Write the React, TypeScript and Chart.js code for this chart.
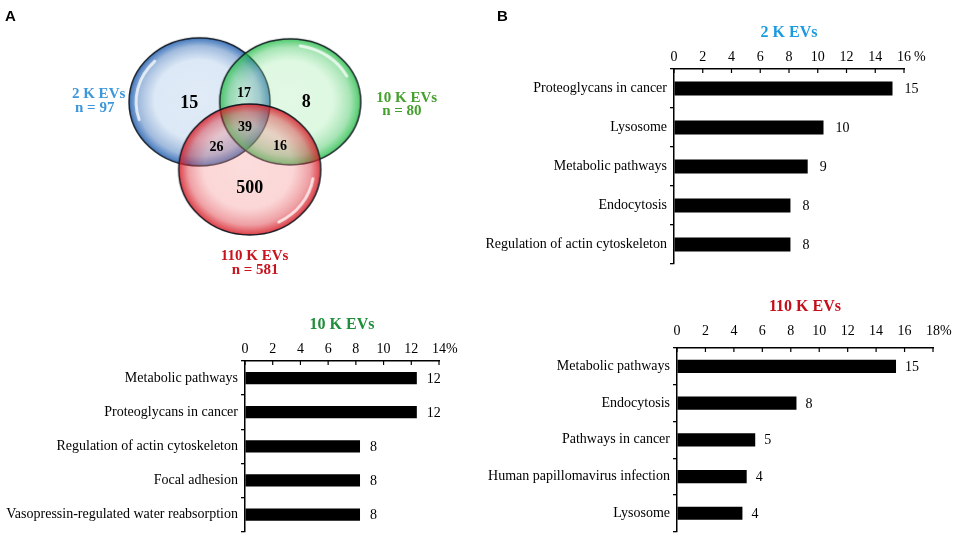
import React, { useEffect, useRef } from 'react';
import { Chart, registerables } from 'chart.js';

Chart.register(...registerables);

const SERIF = '"Liberation Serif", "Times New Roman", serif';
const SANS = '"Liberation Sans", Arial, sans-serif';

// ---------------- Data ----------------
// Venn (panel A)
const vennSetNames = ['2 K EVs', '10 K EVs', '110 K EVs'];
const vennSetTotals = [97, 80, 581];
// regions: only 2K, 2K∩10K, only 10K, all three, 2K∩110K, 10K∩110K, only 110K
const vennRegionCounts = [15, 17, 8, 39, 26, 16, 500];

// Bar panels (panel B) — percentage of proteins in each KEGG pathway
const twoKCategories = ['Proteoglycans in cancer', 'Lysosome', 'Metabolic pathways', 'Endocytosis', 'Regulation of actin cytoskeleton'];
const twoKValues = [15.2, 10.4, 9.3, 8.1, 8.1];
const twoKValueLabels = ['15', '10', '9', '8', '8'];
const twoKAxisMax = 16;

const tenKCategories = ['Metabolic pathways', 'Proteoglycans in cancer', 'Regulation of actin cytoskeleton', 'Focal adhesion', 'Vasopressin-regulated water reabsorption'];
const tenKValues = [12.4, 12.4, 8.3, 8.3, 8.3];
const tenKValueLabels = ['12', '12', '8', '8', '8'];
const tenKAxisMax = 14;

const hundredTenKCategories = ['Metabolic pathways', 'Endocytosis', 'Pathways in cancer', 'Human papillomavirus infection', 'Lysosome'];
const hundredTenKValues = [15.4, 8.4, 5.5, 4.9, 4.6];
const hundredTenKValueLabels = ['15', '8', '5', '4', '4'];
const hundredTenKAxisMax = 18;

const tickStep = 2;

// ---------------- Layout / style (not data) ----------------
const vennCenters = [
  { x: 198.5, y: 100 },
  { x: 291.5, y: 100 },
  { x: 250, y: 170.5 },
];
const vennRadii = [
  { rx: 70.5, ry: 64 },
  { rx: 70.5, ry: 63 },
  { rx: 71, ry: 65.5 },
];
const vennRegionPos = [
  { x: 188, y: 102, s: 18 },
  { x: 244, y: 91, s: 14 },
  { x: 308, y: 101, s: 18 },
  { x: 245, y: 127, s: 14 },
  { x: 216, y: 147, s: 14 },
  { x: 281, y: 146, s: 14 },
  { x: 250, y: 190, s: 18 },
];
const vennLabelPos = [
  { x: 95, y: 92, nx: 91, ny: 107 },
  { x: 411, y: 96, nx: 406, ny: 110 },
  { x: 255, y: 261, nx: 255.5, ny: 276 },
];
const vennTextColors = ['#3d97db', '#45a02e', '#c8141e'];
const titleColors = ['#1a9be0', '#1f8e3a', '#c40f1a'];

type RGB = [number, number, number];
const vennStyles: { center: RGB; ca: number; rim: RGB; ra: number; hl: [number, number] }[] = [
  { center: [170, 200, 232], ca: 0.36, rim: [40, 100, 178], ra: 0.88, hl: [0.9, 1.25] },
  { center: [160, 235, 170], ca: 0.3, rim: [40, 190, 75], ra: 0.82, hl: [1.55, 1.85] },
  { center: [245, 140, 140], ca: 0.3, rim: [215, 32, 42], ra: 0.86, hl: [0.05, 0.35] },
];

function rgba(c: RGB, a: number) {
  return `rgba(${c[0]},${c[1]},${c[2]},${a})`;
}

function makeBubble(rx: number, ry: number, st: typeof vennStyles[number]) {
  const cv = document.createElement('canvas');
  const w = Math.ceil(rx * 2 + 4);
  const h = Math.ceil(ry * 2 + 4);
  cv.width = w;
  cv.height = h;
  const ctx = cv.getContext('2d')!;
  ctx.save();
  ctx.translate(w / 2, h / 2);
  ctx.scale(rx / ry, 1);
  const g = ctx.createRadialGradient(-ry * 0.05, -ry * 0.08, 0, 0, 0, ry);
  g.addColorStop(0, rgba(st.center, st.ca));
  g.addColorStop(0.62, rgba(st.center, st.ca + 0.05));
  g.addColorStop(0.86, rgba(st.rim, st.ra * 0.5));
  g.addColorStop(1, rgba(st.rim, st.ra));
  ctx.beginPath();
  ctx.arc(0, 0, ry, 0, Math.PI * 2);
  ctx.fillStyle = g;
  ctx.fill();
  ctx.restore();
  // gloss highlight
  ctx.beginPath();
  ctx.ellipse(w / 2, h / 2, rx * 0.9, ry * 0.9, 0, Math.PI * st.hl[0], Math.PI * st.hl[1]);
  ctx.strokeStyle = 'rgba(255,255,255,0.75)';
  ctx.lineWidth = 3;
  ctx.lineCap = 'round';
  ctx.stroke();
  // outline
  ctx.beginPath();
  ctx.ellipse(w / 2, h / 2, rx, ry, 0, 0, Math.PI * 2);
  ctx.strokeStyle = 'rgba(15,20,30,0.95)';
  ctx.lineWidth = 1.5;
  ctx.stroke();
  return cv;
}

function VennPanel() {
  const ref = useRef<HTMLCanvasElement>(null);
  useEffect(() => {
    const images = vennStyles.map((st, i) => makeBubble(vennRadii[i].rx, vennRadii[i].ry, st));
    const textPlugin = {
      id: 'vennText',
      afterDatasetsDraw(chart: any) {
        const { ctx } = chart;
        const xs = chart.scales.x;
        const ys = chart.scales.y;
        ctx.save();
        ctx.textAlign = 'center';
        ctx.textBaseline = 'middle';
        ctx.fillStyle = '#000';
        vennRegionCounts.forEach((c, i) => {
          const p = vennRegionPos[i];
          ctx.font = `bold ${p.s}px ${SERIF}`;
          ctx.fillText(String(c), xs.getPixelForValue(p.x), ys.getPixelForValue(p.y));
        });
        vennSetNames.forEach((name, i) => {
          const p = vennLabelPos[i];
          ctx.fillStyle = vennTextColors[i];
          ctx.font = `bold 15px ${SERIF}`;
          ctx.fillText(name, xs.getPixelForValue(p.x), ys.getPixelForValue(p.y));
          ctx.fillText(`n = ${vennSetTotals[i]}`, xs.getPixelForValue(p.nx), ys.getPixelForValue(p.ny));
        });
        ctx.fillStyle = '#000';
        ctx.textAlign = 'left';
        ctx.textBaseline = 'alphabetic';
        ctx.font = `bold 15px ${SANS}`;
        ctx.fillText('A', 5, 21);
        ctx.restore();
      },
    };
    const chart = new Chart(ref.current!, {
      type: 'scatter',
      data: {
        datasets: [
          {
            data: vennCenters.map((c) => ({ x: c.x, y: c.y })),
            pointStyle: images as any,
            pointRadius: 5,
            pointHoverRadius: 5,
          },
        ],
      },
      options: {
        animation: false,
        responsive: false,
        maintainAspectRatio: false,
        events: [],
        layout: { padding: 0 },
        plugins: { legend: { display: false }, tooltip: { enabled: false } },
        scales: {
          x: { type: 'linear', min: 0, max: 480, display: false },
          y: { type: 'linear', min: 0, max: 290, reverse: true, display: false },
        },
      },
      plugins: [textPlugin],
    });
    return () => chart.destroy();
  }, []);
  return (
    <canvas
      ref={ref}
      width={480}
      height={290}
      style={{ position: 'absolute', left: 0, top: 0, width: 480, height: 290 }}
    />
  );
}

type BarProps = {
  categories: string[];
  values: number[];
  valueLabels: string[];
  title: string;
  titleColor: string;
  axisMax: number;
  left: number;
  top: number;
  width: number;
  height: number;
  area: { l: number; r: number; t: number; b: number };
  titleY: number;
  tickGap: number;
  pctOffset: number;
  valueGap: number;
  letter?: string;
};

function BarPanel(p: BarProps) {
  const ref = useRef<HTMLCanvasElement>(null);
  useEffect(() => {
    const titleSize = 16;
    const titleLH = titleSize * 1.2;
    const titlePadTop = p.titleY - titleLH / 2;
    const axisH = p.area.t - (titlePadTop + titleLH);
    const tickFont = 14;
    const tickPadding = p.tickGap - (tickFont * 1.2) / 2;
    const plugin = {
      id: 'barExtras',
      afterDatasetsDraw(chart: any) {
        const { ctx, chartArea } = chart;
        const xs = chart.scales.x;
        const meta = chart.getDatasetMeta(0);
        ctx.save();
        ctx.fillStyle = '#000';
        ctx.font = `${tickFont}px ${SERIF}`;
        ctx.textAlign = 'left';
        ctx.textBaseline = 'middle';
        meta.data.forEach((bar: any, i: number) => {
          ctx.fillText(p.valueLabels[i], bar.x + p.valueGap, bar.y + 1);
        });
        ctx.strokeStyle = '#000';
        ctx.lineWidth = 1.2;
        xs.ticks.forEach((t: any) => {
          const px = xs.getPixelForValue(t.value);
          ctx.beginPath();
          ctx.moveTo(px, chartArea.top);
          ctx.lineTo(px, chartArea.top + 4);
          ctx.stroke();
        });
        ctx.fillText('%', xs.getPixelForValue(p.axisMax) + p.pctOffset, chartArea.top - p.tickGap);
        if (p.letter) {
          ctx.font = `bold 15px ${SANS}`;
          ctx.textBaseline = 'alphabetic';
          ctx.fillText(p.letter, 17, 21);
        }
        ctx.restore();
      },
    };
    const chart = new Chart(ref.current!, {
      type: 'bar',
      data: {
        labels: p.categories,
        datasets: [
          {
            data: p.values,
            backgroundColor: '#000',
            borderWidth: 0,
            barPercentage: 0.36,
            categoryPercentage: 1,
          },
        ],
      },
      options: {
        indexAxis: 'y',
        animation: false,
        responsive: false,
        maintainAspectRatio: false,
        events: [],
        layout: { padding: { left: 0, top: 0, right: p.width - p.area.r, bottom: p.height - p.area.b } },
        plugins: {
          legend: { display: false },
          tooltip: { enabled: false },
          title: {
            display: true,
            fullSize: false,
            text: p.title,
            color: p.titleColor,
            font: { family: SERIF, size: titleSize, weight: 'bold', lineHeight: 1.2 },
            padding: { top: titlePadTop, bottom: 0 },
          },
        },
        scales: {
          x: {
            position: 'top',
            min: 0,
            max: p.axisMax,
            ticks: {
              stepSize: tickStep,
              color: '#000',
              font: { family: SERIF, size: tickFont },
              padding: tickPadding,
              maxRotation: 0,
            },
            grid: { drawOnChartArea: false, drawTicks: false },
            border: { display: true, color: '#000', width: 1.5 },
            afterFit: (s: any) => {
              s.height = axisH;
            },
          },
          y: {
            ticks: {
              color: '#000',
              font: { family: SERIF, size: tickFont },
              padding: 3,
              autoSkip: false,
            },
            grid: { drawOnChartArea: false, drawTicks: true, tickLength: 4, color: '#000', lineWidth: 1.3, offset: true },
            border: { display: true, color: '#000', width: 1.5 },
            afterFit: (s: any) => {
              s.width = p.area.l;
            },
          },
        },
      },
      plugins: [plugin],
    });
    return () => chart.destroy();
  }, []);
  return (
    <canvas
      ref={ref}
      width={p.width}
      height={p.height}
      style={{ position: 'absolute', left: p.left, top: p.top, width: p.width, height: p.height }}
    />
  );
}

export default function App() {
  return (
    <div style={{ position: 'absolute', left: 0, top: 0, width: 957, height: 543, background: '#fff', overflow: 'hidden' }}>
      <VennPanel />
      <BarPanel
        categories={twoKCategories}
        values={twoKValues}
        valueLabels={twoKValueLabels}
        title={vennSetNames[0]}
        titleColor={titleColors[0]}
        axisMax={twoKAxisMax}
        left={480}
        top={0}
        width={477}
        height={280}
        area={{ l: 194, r: 424, t: 69, b: 264 }}
        titleY={33}
        tickGap={12}
        pctOffset={10}
        valueGap={12}
        letter="B"
      />
      <BarPanel
        categories={tenKCategories}
        values={tenKValues}
        valueLabels={tenKValueLabels}
        title={vennSetNames[1]}
        titleColor={titleColors[1]}
        axisMax={tenKAxisMax}
        left={0}
        top={290}
        width={480}
        height={253}
        area={{ l: 245, r: 439, t: 71, b: 250 }}
        titleY={35}
        tickGap={12}
        pctOffset={7}
        valueGap={10}
      />
      <BarPanel
        categories={hundredTenKCategories}
        values={hundredTenKValues}
        valueLabels={hundredTenKValueLabels}
        title={vennSetNames[2]}
        titleColor={titleColors[2]}
        axisMax={hundredTenKAxisMax}
        left={460}
        top={290}
        width={497}
        height={253}
        area={{ l: 217, r: 473, t: 58, b: 245 }}
        titleY={17}
        tickGap={17}
        pctOffset={7}
        valueGap={9}
      />
    </div>
  );
}
